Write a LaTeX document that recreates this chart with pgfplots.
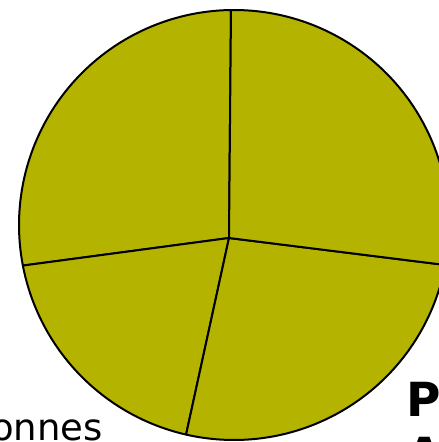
\documentclass[border=0pt]{standalone}
\usepackage{pgfplots}
\pgfplotsset{compat=1.18}
\usepackage{pgfplotstable}
\usepackage{fontspec}
\setmainfont{DejaVu Sans}
\definecolor{pieolive}{RGB}{180,180,0}
\pgfplotstableread{
slice value
1 27.8
2 18.4
3 25.6
4 28.2
}\pietable
\pgfplotstablecreatecol[create col/expr accum={\pgfmathaccuma + 3.6*\thisrow{value}}{90.8}]{end}\pietable
\foreach \i in {0,...,3}{%
  \pgfplotstablegetelem{\i}{end}\of\pietable
  \expandafter\xdef\csname pieend\i\endcsname{\pgfplotsretval}%
  \pgfplotstablegetelem{\i}{value}\of\pietable
  \pgfmathsetmacro\tmpstart{\csname pieend\i\endcsname - 3.6*\pgfplotsretval}%
  \expandafter\xdef\csname piestart\i\endcsname{\tmpstart}%
}%
\begin{document}
\begin{tikzpicture}
\useasboundingbox (0,0) rectangle (439pt,442pt);
\clip (0,0) rectangle (439pt,442pt);
\begin{axis}[
  at={(0,0)}, anchor=south west,
  hide axis, scale only axis,
  x=1pt, y=1pt, disabledatascaling,
  xmin=0, xmax=439, ymin=0, ymax=442,
  clip=false,
]
\pgfplotsinvokeforeach{0,...,3}{
  \filldraw[fill=pieolive, draw=black, line width=2pt, line join=round]
    (axis cs:229,204) -- (axis cs:{234+215*cos(\csname piestart#1\endcsname)},{217+215*sin(\csname piestart#1\endcsname)})
    arc[start angle=\csname piestart#1\endcsname, end angle=\csname pieend#1\endcsname, radius=215pt] -- cycle;
}
\node[anchor=base east, inner sep=0pt, font=\fontsize{37}{44}\selectfont] at (axis cs:103,1.3) {Personnes};
\node[anchor=base west, inner sep=0pt, font=\fontsize{47}{55}\selectfont\bfseries] at (axis cs:406,25.3) {Personnes};
\node[anchor=base west, inner sep=0pt, font=\fontsize{47}{55}\selectfont\bfseries] at (axis cs:406,-29.7) {Agées};
\end{axis}
\end{tikzpicture}
\end{document}
